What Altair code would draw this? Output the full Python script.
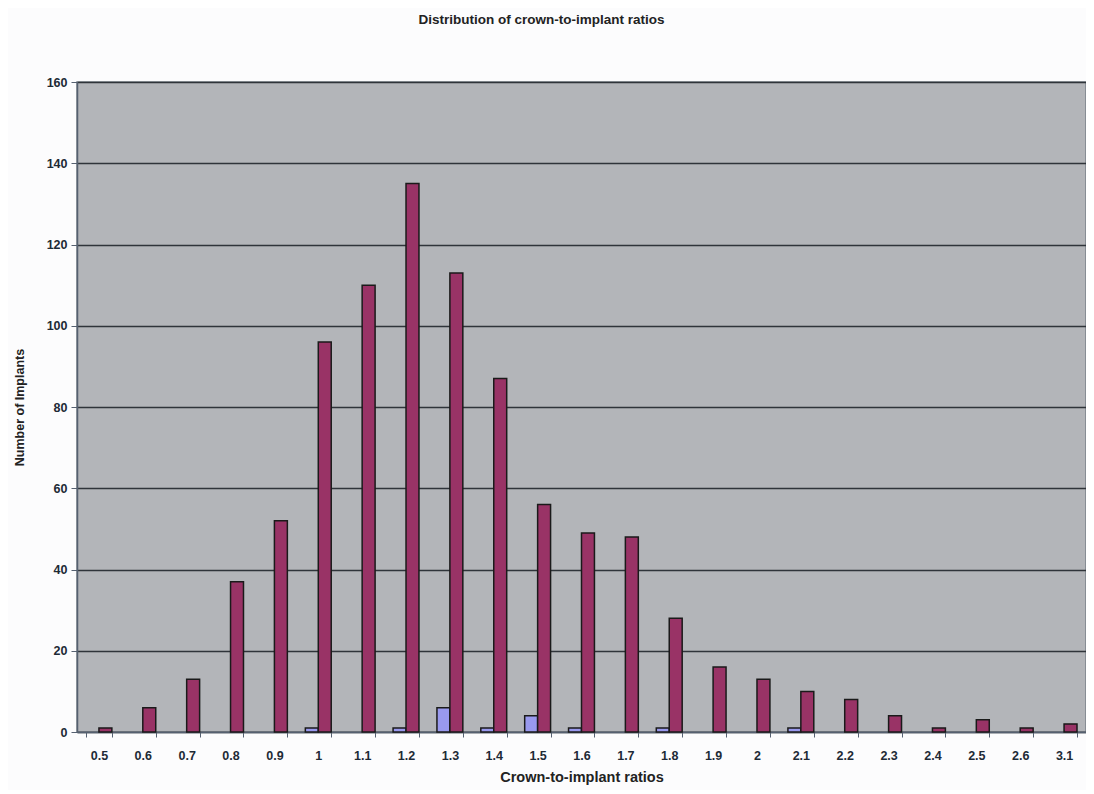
import altair as alt
import pandas as pd

categories = ["0.5", "0.6", "0.7", "0.8", "0.9", "1", "1.1", "1.2", "1.3", "1.4", "1.5",
              "1.6", "1.7", "1.8", "1.9", "2", "2.1", "2.2", "2.3", "2.4", "2.5", "2.6", "3.1"]
series_a = [0, 0, 0, 0, 0, 1, 0, 1, 6, 1, 4, 1, 0, 1, 0, 0, 1, 0, 0, 0, 0, 0, 0]
series_b = [1, 6, 13, 37, 52, 96, 110, 135, 113, 87, 56, 49, 48, 28, 16, 13, 10, 8, 4, 1, 3, 1, 2]
series_names = ["Series1", "Series2"]
series_colors = ["#9999EE", "#993366"]

rows = []
for c, a, b in zip(categories, series_a, series_b):
    rows.append({"ratio": c, "series": series_names[0], "count": a})
    rows.append({"ratio": c, "series": series_names[1], "count": b})
df = pd.DataFrame(rows)

FONT = "Liberation Sans"

chart = alt.Chart(df).transform_filter(
    alt.datum.count > 0
).mark_bar(stroke="#1a1a1a", strokeWidth=1.5).encode(
    x=alt.X("ratio:N", sort=categories,
            scale=alt.Scale(domain=categories, paddingInner=0.41, paddingOuter=0.205),
            axis=alt.Axis(title="Crown-to-implant ratios", labelAngle=0,
                          tickBand="extent", tickSize=5, tickColor="#556070",
                          domainColor="#556070", domainWidth=1.5,
                          labelPadding=12, titlePadding=9)),
    xOffset=alt.XOffset("series:N", sort=series_names,
                        scale=alt.Scale(domain=series_names)),
    y=alt.Y("count:Q", scale=alt.Scale(domain=[0, 160]),
            axis=alt.Axis(title="Number of Implants", values=list(range(0, 161, 20)),
                          tickSize=6, tickColor="#556070", domainColor="#556070",
                          domainWidth=1.5, labelPadding=4, titlePadding=20,
                          gridColor="#2f343a", gridWidth=1.4)),
    color=alt.Color("series:N", sort=series_names,
                    scale=alt.Scale(domain=series_names, range=series_colors),
                    legend=None),
).properties(
    width=1009, height=650,
    background="#FCFCFD",
    title=alt.TitleParams("Distribution of crown-to-implant ratios", font=FONT,
                          fontSize=13.5, fontWeight="bold", color="#222222",
                          offset=50, dx=-40),
    autosize=alt.AutoSizeParams(type="none"),
    padding={"left": 69, "top": 74, "right": 0, "bottom": 58},
).configure_view(
    fill="#B3B5B9", stroke="#7a8088", strokeWidth=1.5
).configure_axis(
    labelFont=FONT, titleFont=FONT, labelFontSize=12.5, labelFontWeight="bold",
    titleFontSize=14.5, titleFontWeight="bold", labelColor="#1e2a36", titleColor="#222222"
).configure_axisY(
    titleFontSize=12.5
)

chart.save("out.html", embed_options={"renderer": "svg", "actions": False})
